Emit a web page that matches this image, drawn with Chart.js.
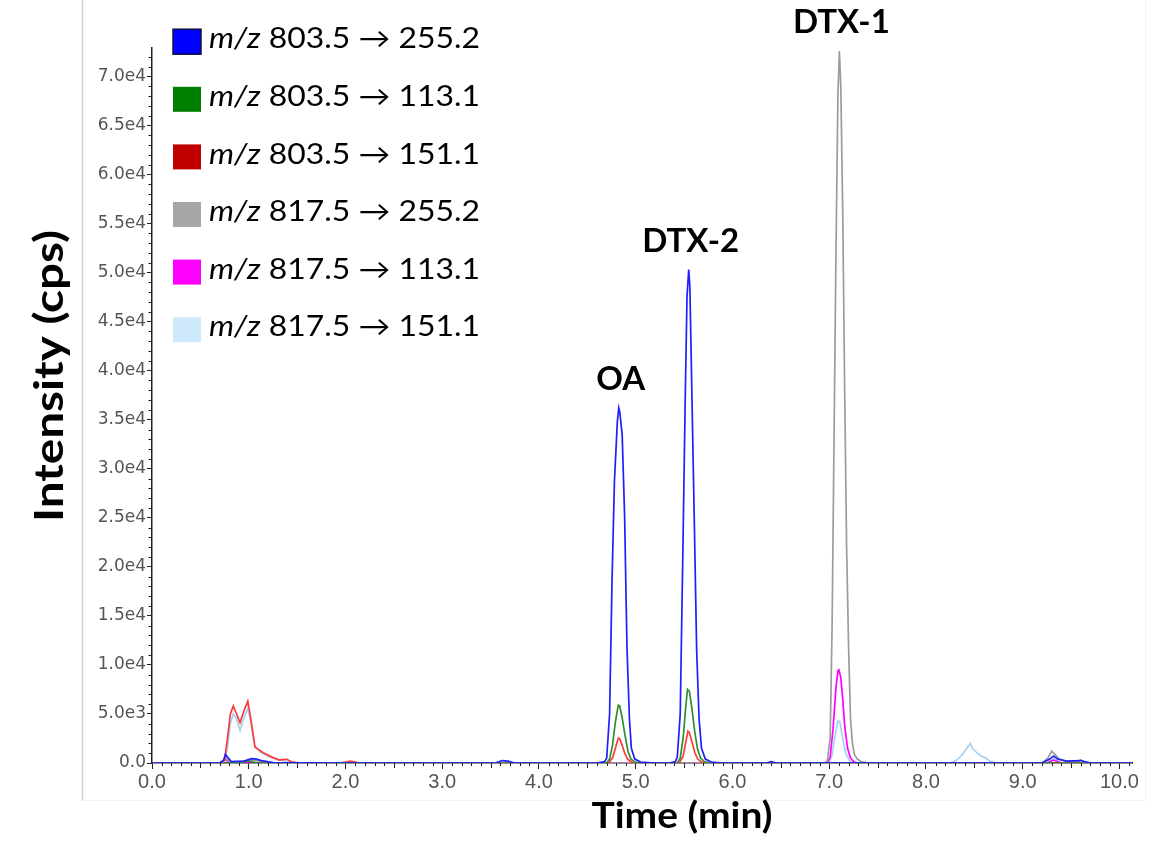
<!DOCTYPE html>
<html>
<head>
<meta charset="utf-8">
<title>MRM chromatogram</title>
<script src="https://cdn.jsdelivr.net/npm/chart.js@4.4.1/dist/chart.umd.min.js"></script>
<style>
  html, body { margin: 0; padding: 0; background: #fff; }
  #wrap { position: relative; width: 1172px; height: 852px; }
</style>
</head>
<body>
<div id="wrap"><canvas id="chromatogram"></canvas></div>
<script>
// transitions (legend)
const precursors = ['803.5', '803.5', '803.5', '817.5', '817.5', '817.5'];
const products = ['255.2', '113.1', '151.1', '255.2', '113.1', '151.1'];
const lineColors = ['#1e1eff', '#2f8f2f', '#ff3a3a', '#9c9c9c', '#ff00ff', '#a8d2f2'];
const swatchColors = ['#0000ff', '#008000', '#c00000', '#a6a6a6', '#ff00ff', '#cde9fb'];

// retention time (min) / intensity (cps)
const blueTime = [0, 0.5, 0.70, 0.74, 0.76, 0.78, 0.82, 0.95, 1.03, 1.08, 1.13, 1.25, 2.0, 3.55, 3.62, 3.68, 3.75,
  4.60, 4.68, 4.70, 4.73, 4.755, 4.78, 4.81, 4.825, 4.835, 4.86, 4.885, 4.91, 4.935, 4.955, 4.99, 5.05, 5.20,
  5.35, 5.41, 5.43, 5.46, 5.485, 5.51, 5.53, 5.548, 5.56, 5.58, 5.605, 5.63, 5.655, 5.68, 5.72, 5.78, 5.90,
  6.35, 6.40, 6.45, 7.0, 8.9, 9.2, 9.28, 9.32, 9.36, 9.45, 9.6, 9.7, 10.13];
const blueInt = [0, 0, 0, 300, 900, 600, 150, 200, 450, 400, 250, 50, 0, 0, 250, 200, 0,
  0, 150, 500, 5000, 18500, 28700, 34800, 36200, 35800, 33500, 25300, 11700, 4500, 1500, 400, 100, 0,
  0, 150, 600, 5000, 20000, 36000, 47500, 50300, 48500, 38000, 25000, 11500, 4500, 1500, 400, 100, 0,
  0, 150, 0, 0, 0, 0, 400, 700, 400, 200, 250, 0, 0];

const greenTime = [0, 0.9, 0.95, 1.0, 1.1, 2.0, 4.70, 4.73, 4.76, 4.79, 4.82, 4.835, 4.86, 4.89, 4.92, 4.95, 4.99, 5.05,
  5.43, 5.46, 5.49, 5.515, 5.535, 5.555, 5.58, 5.61, 5.64, 5.67, 5.71, 5.76, 9.3, 10.13];
const greenInt = [0, 0, 150, 200, 0, 0, 0, 400, 1800, 4200, 5900, 5800, 4600, 2800, 1200, 400, 100, 0,
  0, 500, 2500, 5500, 7500, 7300, 5600, 3200, 1400, 500, 150, 0, 0, 0];

const redTime = [0, 0.70, 0.75, 0.78, 0.81, 0.84, 0.87, 0.91, 0.95, 0.99, 1.02, 1.065, 1.15, 1.25, 1.32, 1.39, 1.45, 1.55,
  1.95, 2.05, 2.15, 4.72, 4.76, 4.79, 4.82, 4.835, 4.86, 4.89, 4.92, 4.96, 5.0,
  5.45, 5.49, 5.515, 5.54, 5.555, 5.58, 5.61, 5.64, 5.68, 5.72, 10.13];
const redInt = [0, 0, 300, 2500, 5000, 5800, 5100, 4100, 5300, 6300, 4600, 1600, 1050, 550, 300, 400, 80, 0,
  0, 200, 0, 0, 500, 1500, 2550, 2450, 1800, 900, 350, 80, 0,
  0, 700, 2000, 3250, 3100, 2200, 1100, 400, 100, 0, 0];

const greyTime = [0, 0.72, 0.76, 0.80, 1.0, 1.05, 1.10, 1.2, 6.95, 6.98, 7.01, 7.03, 7.05, 7.07, 7.09, 7.105, 7.12,
  7.14, 7.16, 7.18, 7.20, 7.22, 7.24, 7.26, 7.29, 7.33, 7.40, 9.2, 9.26, 9.30, 9.34, 9.38, 9.45, 9.55, 9.60, 9.65, 10.13];
const greyInt = [0, 0, 500, 100, 200, 300, 200, 0, 0, 200, 2500, 14000, 33000, 52000, 68000, 72600, 69000,
  56000, 38000, 22000, 12000, 4500, 2000, 900, 400, 150, 0, 0, 500, 1200, 800, 400, 200, 100, 300, 0, 0];

const magentaTime = [0, 0.72, 0.76, 0.80, 6.98, 7.01, 7.04, 7.07, 7.09, 7.10, 7.12, 7.14, 7.16, 7.19, 7.22, 7.26, 7.30,
  9.25, 9.32, 9.4, 10.13];
const magentaInt = [0, 0, 400, 0, 0, 600, 3500, 7700, 9400, 9500, 8700, 6500, 3800, 1500, 500, 100, 0,
  0, 300, 0, 0];

const skyTime = [0, 0.70, 0.75, 0.78, 0.81, 0.84, 0.87, 0.91, 0.95, 0.99, 1.02, 1.06, 1.12, 1.2, 1.3, 1.4, 1.5,
  7.00, 7.03, 7.06, 7.09, 7.11, 7.14, 7.17, 7.21, 7.26,
  8.25, 8.32, 8.38, 8.43, 8.46, 8.48, 8.52, 8.57, 8.62, 8.66, 8.72, 9.25, 9.32, 9.4, 10.13];
const skyInt = [0, 0, 200, 1500, 4000, 5000, 4600, 3300, 4600, 5600, 4200, 1800, 1100, 700, 350, 150, 0,
  0, 800, 2800, 4300, 4200, 2500, 1000, 250, 0,
  0, 300, 900, 1600, 2000, 1500, 1100, 700, 500, 200, 0, 0, 400, 0, 0];

// peak labels
const peakNames = ['OA', 'DTX-2', 'DTX-1'];
const peakTimes = [4.825, 5.548, 7.105];
const peakHeights = [36200, 50300, 72600];

// axes
const timeTicks = [0, 1, 2, 3, 4, 5, 6, 7, 8, 9, 10];
const intensityTicks = [0, 5000, 10000, 15000, 20000, 25000, 30000, 35000, 40000, 45000, 50000, 55000, 60000, 65000, 70000];
const timeMax = 10.13;
const intensityMax = 72900;

const traces = [
  [blueTime, blueInt], [greenTime, greenInt], [redTime, redInt],
  [greyTime, greyInt], [magentaTime, magentaInt], [skyTime, skyInt]
];

const datasets = traces.map((tr, i) => ({
  label: 'm/z ' + precursors[i] + ' \u2192 ' + products[i],
  data: tr[0].map((t, k) => ({ x: t, y: tr[1][k] })),
  borderColor: lineColors[i],
  backgroundColor: swatchColors[i],
  borderWidth: 1.7,
  pointRadius: 0,
  showLine: true,
  tension: 0
}));

function sciLabel(v) {
  if (v === 0) return '0.0';
  const e = Math.floor(Math.log10(v) + 1e-9);
  return (v / Math.pow(10, e)).toFixed(1) + 'e' + e;
}

// text squeezed/stretched to a given width
function drawFitted(ctx, parts, x, y, width, angle, centered) {
  let total = 0;
  const widths = parts.map(p => {
    ctx.font = p.font;
    const w = ctx.measureText(p.text).width;
    total += w;
    return w;
  });
  ctx.save();
  ctx.translate(x, y);
  ctx.rotate(angle);
  ctx.scale(width / total, 1);
  ctx.textAlign = 'left';
  ctx.textBaseline = 'alphabetic';
  ctx.fillStyle = '#000';
  let cx = centered ? -total / 2 : 0;
  parts.forEach((p, k) => {
    ctx.font = p.font;
    ctx.fillText(p.text, cx, 0);
    cx += widths[k];
  });
  ctx.restore();
}

const framePlugin = {
  id: 'frame',
  beforeDraw(chart) {
    const ctx = chart.ctx;
    ctx.save();
    ctx.strokeStyle = '#f0f0f0';
    ctx.lineWidth = 1;
    ctx.beginPath();
    ctx.moveTo(82, 800.5); ctx.lineTo(1145.5, 800.5); ctx.lineTo(1145.5, 0);
    ctx.stroke();
    ctx.strokeStyle = '#d0d0d0';
    ctx.lineWidth = 1.5;
    ctx.beginPath();
    ctx.moveTo(82.5, 0); ctx.lineTo(82.5, 800);
    ctx.stroke();
    ctx.restore();
  }
};

const minorTicksPlugin = {
  id: 'minorTicks',
  afterDraw(chart) {
    const { ctx, scales: { x, y } } = chart;
    const area = chart.chartArea;
    ctx.save();
    ctx.strokeStyle = '#222';
    ctx.lineWidth = 1;
    ctx.beginPath();
    for (let i = 0; i <= Math.floor(timeMax * 10); i++) {
      if (i % 10 === 0) continue;
      const px = Math.round(x.getPixelForValue(i / 10)) + 0.5;
      const len = i % 5 === 0 ? 5 : 3;
      ctx.moveTo(px, area.bottom);
      ctx.lineTo(px, area.bottom + len);
    }
    for (let v = 1000; v <= intensityMax; v += 1000) {
      if (v % 5000 === 0) continue;
      const py = Math.round(y.getPixelForValue(v)) + 0.5;
      ctx.moveTo(area.left, py);
      ctx.lineTo(area.left - 3.5, py);
    }
    ctx.stroke();
    ctx.restore();
  }
};

const labelsPlugin = {
  id: 'labels',
  afterDraw(chart) {
    const { ctx, scales: { x, y } } = chart;

    // peak names
    ctx.save();
    ctx.fillStyle = '#000';
    ctx.font = 'bold 33px Lato';
    ctx.textAlign = 'center';
    ctx.textBaseline = 'alphabetic';
    peakNames.forEach((n, i) => {
      ctx.fillText(n, x.getPixelForValue(peakTimes[i]) + 2, y.getPixelForValue(peakHeights[i]) - 18);
    });
    ctx.restore();

    // axis titles
    drawFitted(ctx, [{ text: 'Intensity (cps)', font: 'bold 40px Lato' }], 63, 376, 292, -Math.PI / 2, true);
    drawFitted(ctx, [{ text: 'Time (min)', font: 'bold 36px Lato' }], 682, 828, 181, 0, true);

    // legend
    chart.data.datasets.forEach((ds, i) => {
      const cy = 41.7 + i * 57.6;
      ctx.save();
      ctx.fillStyle = swatchColors[i];
      ctx.fillRect(173, cy - 12.5, 28, 25);
      if (i === 0) {
        ctx.strokeStyle = '#101040';
        ctx.lineWidth = 1.5;
        ctx.strokeRect(173, cy - 12.5, 28, 25);
      }
      ctx.restore();
      drawFitted(ctx, [
        { text: 'm/z', font: 'italic 28px Lato' },
        { text: ' ' + precursors[i] + ' \u2192 ' + products[i], font: '28px Lato' }
      ], 209, cy + 6.6, 271, 0, false);
    });
  }
};

new Chart(document.getElementById('chromatogram'), {
  type: 'scatter',
  data: { datasets: datasets },
  plugins: [framePlugin, minorTicksPlugin, labelsPlugin],
  options: {
    responsive: true,
    maintainAspectRatio: false,
    animation: false,
    layout: { padding: { top: 48, right: 40, bottom: 0, left: 0 } },
    plugins: {
      legend: { display: false },
      tooltip: { enabled: false }
    },
    scales: {
      x: {
        type: 'linear',
        min: 0,
        max: timeMax,
        afterBuildTicks: s => { s.ticks = timeTicks.map(v => ({ value: v })); },
        afterFit: s => { s.height = 89; s.paddingLeft = 0; s.paddingRight = 0; },
        grid: { drawOnChartArea: false, tickLength: 6, tickColor: '#222' },
        border: { color: '#222', width: 1.5 },
        ticks: {
          padding: 1,
          color: '#555',
          font: { family: 'Liberation Sans', size: 20 },
          callback: v => Number(v).toFixed(1)
        }
      },
      y: {
        type: 'linear',
        min: 0,
        max: intensityMax,
        afterBuildTicks: s => { s.ticks = intensityTicks.map(v => ({ value: v })); },
        afterFit: s => { s.width = 152; },
        grid: { drawOnChartArea: false, tickLength: 5, tickColor: '#222' },
        border: { color: '#222', width: 1.5 },
        ticks: {
          padding: 1,
          color: '#555',
          font: { family: 'DejaVu Sans', size: 17 },
          callback: v => sciLabel(v)
        }
      }
    }
  }
});
</script>
</body>
</html>
